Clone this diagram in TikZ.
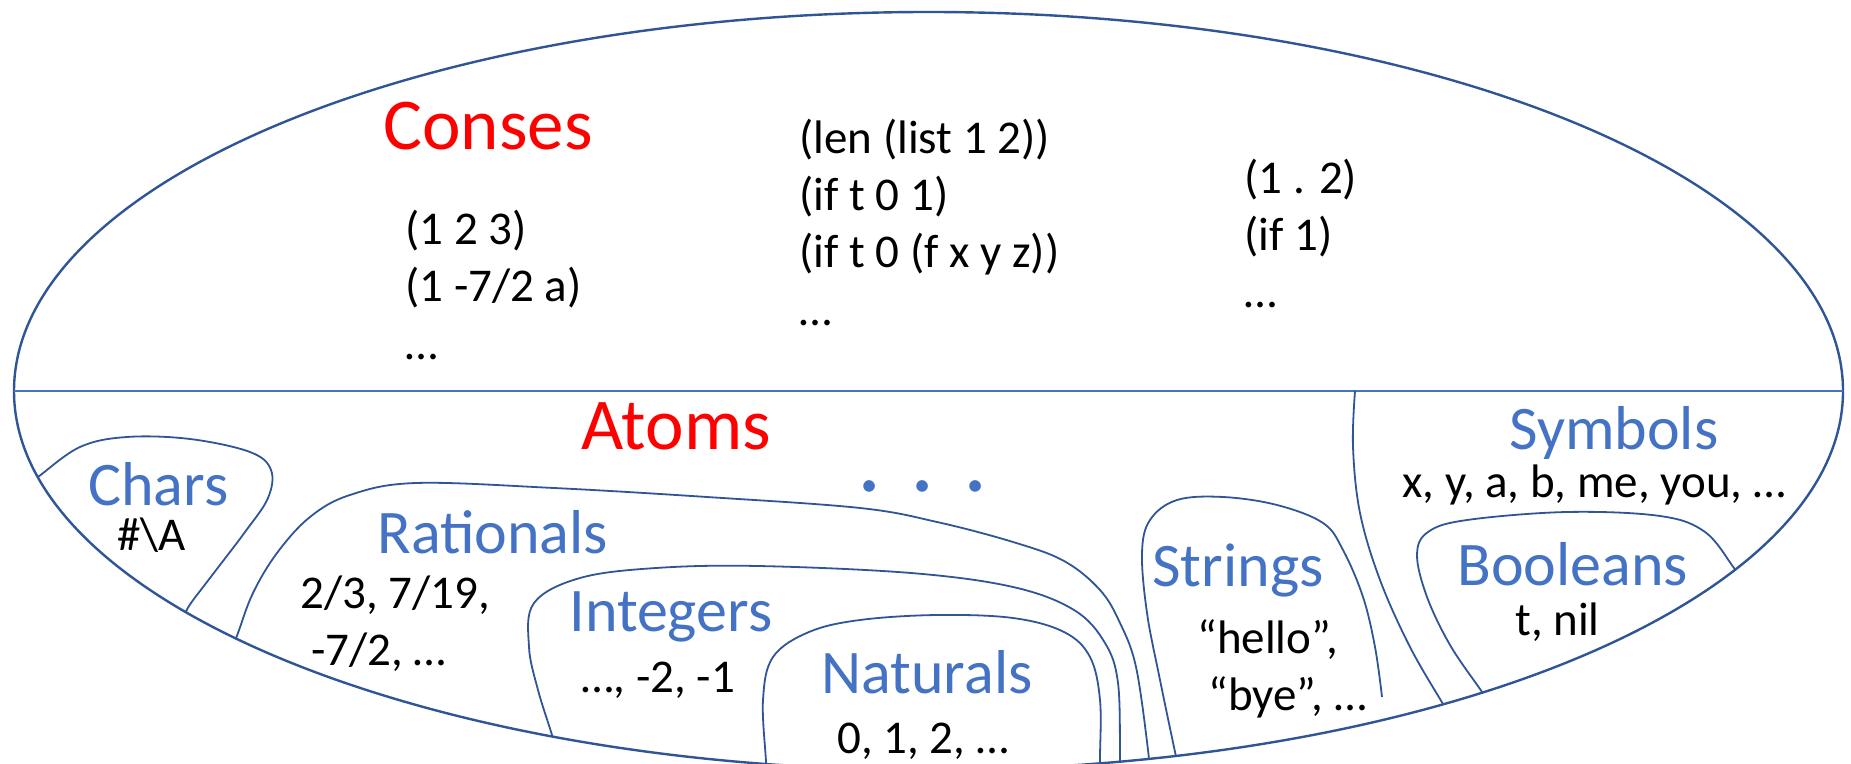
\documentclass[tikz,border=0pt]{standalone}
\usepackage{fontspec}
\setmainfont{Carlito}
\definecolor{ellc}{HTML}{2F5597}
\definecolor{linec}{HTML}{4472C4}
\definecolor{lblc}{HTML}{4472C4}
\definecolor{ttlc}{HTML}{FF0000}
\tikzset{
  ellstyle/.style={draw=ellc, line width=1.2pt},
  subset/.style={draw=ellc, line width=0.9pt},
  divider/.style={draw=linec, line width=1pt},
  ttl/.style={text=ttlc, font=\fontsize{36.5}{44}\selectfont, inner sep=0pt, anchor=base west},
  lbl/.style={text=lblc, font=\fontsize{31}{37}\selectfont, inner sep=0pt, anchor=base west},
  bdy/.style={text=black, font=\fontsize{23.5}{28.5}\selectfont, inner sep=0pt, anchor=base west},
}
\begin{document}
\begin{tikzpicture}[x=0.5pt,y=-0.5pt]
\useasboundingbox (0,0) rectangle (1851,764);
\clip (0,0) rectangle (1851,764);

% outer ellipse
\draw[ellstyle] (928.5,391) ellipse [x radius=457.25pt, y radius=189.5pt];

\begin{scope}
  \clip (928.5,391) ellipse [x radius=457.25pt, y radius=189.5pt];
  % divider between conses and atoms
  \draw[divider] (0,391) -- (1851,391);
  % Chars
  \draw[subset] plot[smooth, tension=0.6] coordinates {(28,484) (38,477) (80,447) (127,437) (190,439) (250,452) (271,470) (268,498) (245,532) (210,578) (189,606) (183,620)};
  % Rationals
  \draw[subset] plot[smooth, tension=0.6] coordinates {(233,646) (238,633) (253,593) (277,553) (310,517) (350,495) (416,483) (554,488) (707,497) (860,508) (937,522) (1013,542) (1064,561) (1100,590) (1120,623) (1136,667) (1148,750) (1149,772)};
  % Integers
  \draw[subset] plot[smooth, tension=0.6] coordinates {(555,748) (552,735) (538,690) (529,647) (534,603) (580,578) (656,568) (758,566) (911,573) (1013,587) (1074,610) (1105,643) (1118,683) (1120,757) (1120,775)};
  % Naturals
  \draw[subset] plot[smooth, tension=0.6] coordinates {(766,778) (766,762) (763,700) (773,657) (809,632) (860,620) (937,615) (1013,618) (1064,632) (1090,657) (1100,700) (1100,757) (1100,776)};
  % Strings
  \draw[subset] plot[smooth, tension=0.6] coordinates {(1178,766) (1175,752) (1160,680) (1147,613) (1142,553) (1150,520) (1177,500) (1223,497) (1277,505) (1323,523) (1343,550) (1363,597) (1375,647) (1382,697)};
  % Symbols divider
  \draw[subset] plot[smooth, tension=0.6] coordinates {(1355,391) (1353,447) (1360,513) (1380,580) (1410,647) (1443,704) (1449,714)};
  % Booleans
  \draw[subset] plot[smooth, tension=0.6] coordinates {(1487,699) (1480,689) (1450,645) (1427,597) (1417,555) (1428,532) (1467,520) (1567,512) (1660,516) (1705,532) (1734,568) (1741,577)};
\end{scope}

% Conses
\node[ttl] (conses) at (383,150) {Conses};
\node[bdy] (c1) at (405,245) {(1 2 3)};
\node[bdy] (c2) at (405,302) {(1 -7/2 a)};
\node[bdy] (c3) at (405,360) {…};
\node[bdy] (m1) at (799,154) {(len (list 1 2))};
\node[bdy] (m2) at (799,211) {(if t 0 1)};
\node[bdy] (m3) at (799,268) {(if t 0 (f x y z))};
\node[bdy] (m4) at (799,326) {…};
\node[bdy] (r1) at (1244,194) {(1 . 2)};
\node[bdy] (r2) at (1244,251) {(if 1)};
\node[bdy] (r3) at (1244,308) {…};

% Atoms
\node[ttl] (atoms) at (581,449) {Atoms};
\node[lbl, font=\fontsize{48}{56}\selectfont, anchor=base] (dots) at (923,491) {. . .};

\node[lbl] (chars) at (88,505) {Chars};
\node[bdy] (charsx) at (117,550) {\#\textbackslash A};

\node[lbl] (rat) at (377,553) {Rationals};
\node[bdy] (rat1) at (300,608) {2/3, 7/19,};
\node[bdy] (rat2) at (311,665) {-7/2, …};

\node[lbl] (int) at (569,631) {Integers};
\node[bdy] (int1) at (581,692) {…, -2, -1};

\node[lbl] (nat) at (821,693) {Naturals};
\node[bdy] (nat1) at (837,753) {0, 1, 2, …};

\node[lbl] (str) at (1152,586) {Strings};
\node[bdy] (str1) at (1197,653) {“hello”,};
\node[bdy] (str2) at (1208,710) {“bye”, …};

\node[lbl] (sym) at (1509,449) {Symbols};
\node[bdy] (sym1) at (1402,497) {x, y, a, b, me, you, …};

\node[lbl] (bool) at (1457,585) {Booleans};
\node[bdy] (bool1) at (1515,635) {t, nil};
\end{tikzpicture}
\end{document}
